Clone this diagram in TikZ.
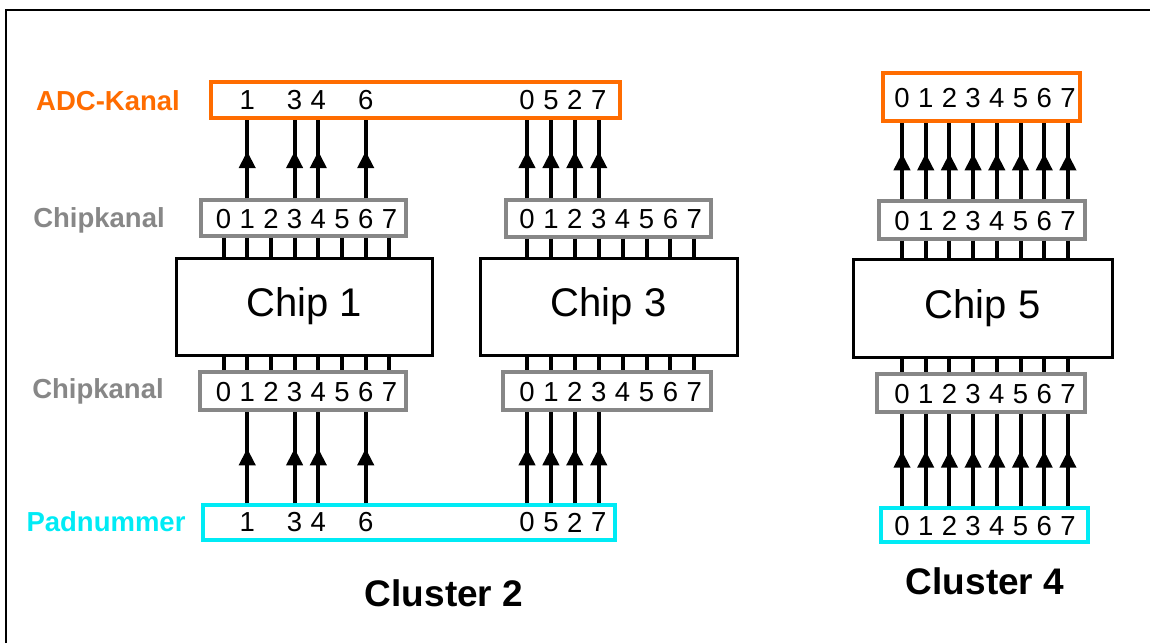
\documentclass[tikz,border=0pt]{standalone}
\usepackage{fontspec}
\setmainfont{Liberation Sans}
\usetikzlibrary{arrows.meta,decorations.markings}
\definecolor{adcorange}{RGB}{255,108,0}
\definecolor{chipgrey}{RGB}{135,135,135}
\definecolor{padcyan}{RGB}{0,235,245}
\begin{document}
\begin{tikzpicture}[x=1pt,y=-1pt,
  chipbox/.style={draw,line width=3pt,inner sep=0pt,font=\fontsize{40}{40}\selectfont},
  chanbox/.style={draw=chipgrey,line width=3.2pt,inner sep=0pt},
  adcbox/.style={draw=adcorange,line width=3.2pt,inner sep=0pt},
  padbox/.style={draw=padcyan,line width=3.2pt,inner sep=0pt},
  digit/.style={inner sep=0pt,font=\fontsize{27.5}{28}\selectfont},
  rowlabel/.style={inner sep=0pt,font=\fontsize{27.5}{28}\selectfont\bfseries},
  clusterlabel/.style={inner sep=0pt,font=\fontsize{37}{38}\selectfont\bfseries},
  pin/.style={line width=4pt},
  arr/.style={line width=4pt,postaction={decorate},
    decoration={markings,mark=at position 0.6 with {\arrow{Triangle[width=16pt,length=17pt]}}}}]
\useasboundingbox (0,0) rectangle (1151,643);

% frame
\draw[line width=2.5pt] (6,643) -- (6,10) -- (1150,10);

% row labels
\node[rowlabel,text=adcorange] (lbladc) at (108,101) {ADC-Kanal};
\node[rowlabel,text=chipgrey] (lblkt) at (99,220) {Chipkanal};
\node[rowlabel,text=chipgrey] (lblkb) at (98,391) {Chipkanal};
\node[rowlabel,text=padcyan] (lblpad) at (106,522) {Padnummer};

% chips
\node[chipbox,minimum width=256pt,minimum height=97pt] (c1) at (304,306.5) {Chip 1};
\node[chipbox,minimum width=257pt,minimum height=97pt] (c3) at (608.5,306.5) {Chip 3};
\node[chipbox,minimum width=259pt,minimum height=98pt] (c5) at (982.5,308) {Chip 5};

% chip channel boxes
\node[chanbox,minimum width=205pt,minimum height=36pt] (k1t) at (303.5,218) {};
\node[chanbox,minimum width=205pt,minimum height=37pt] (k3t) at (608.5,218.5) {};
\node[chanbox,minimum width=206pt,minimum height=38pt] (k5t) at (982,220) {};
\node[chanbox,minimum width=206pt,minimum height=38pt] (k1b) at (303,391) {};
\node[chanbox,minimum width=208pt,minimum height=38pt] (k3b) at (607,391) {};
\node[chanbox,minimum width=208pt,minimum height=38pt] (k5b) at (981,393) {};

% ADC and pad boxes
\node[adcbox,minimum width=409pt,minimum height=36pt] (adcA) at (415.5,100) {};
\node[adcbox,minimum width=197pt,minimum height=48pt] (adcB) at (981.5,97) {};
\node[padbox,minimum width=412pt,minimum height=35pt] (padA) at (409,522.5) {};
\node[padbox,minimum width=207pt,minimum height=34pt] (padB) at (984.5,525) {};

% channel digits and pins
\foreach \i in {0,...,7} {
  \node[digit] (k1t-\i) at (223.5+23.7*\i,219) {\i};
  \node[digit] (k3t-\i) at (527+23.9*\i,219) {\i};
  \node[digit] (k5t-\i) at (902+23.7*\i,221) {\i};
  \node[digit] (k1b-\i) at (223.5+23.7*\i,392) {\i};
  \node[digit] (k3b-\i) at (527+23.9*\i,392) {\i};
  \node[digit] (k5b-\i) at (902+23.7*\i,394) {\i};
  \node[digit] (adcB-\i) at (902+23.7*\i,98) {\i};
  \node[digit] (padB-\i) at (902+23.7*\i,526) {\i};
  \draw[pin] (k1t-\i |- k1t.south) -- (k1t-\i |- c1.north);
  \draw[pin] (k3t-\i |- k3t.south) -- (k3t-\i |- c3.north);
  \draw[pin] (k5t-\i |- k5t.south) -- (k5t-\i |- c5.north);
  \draw[pin] (k1b-\i |- c1.south) -- (k1b-\i |- k1b.north);
  \draw[pin] (k3b-\i |- c3.south) -- (k3b-\i |- k3b.north);
  \draw[pin] (k5b-\i |- c5.south) -- (k5b-\i |- k5b.north);
  \draw[arr] (k5t-\i |- k5t.north) -- (adcB-\i |- adcB.south);
  \draw[arr] (padB-\i |- padB.north) -- (k5b-\i |- k5b.south);
}

% cluster 2: ADC and pad numbers for the used channels
\foreach \ch/\n in {1/1,3/3,4/4,6/6} {
  \node[digit] (adcA-\n) at (k1t-\ch |- adcA) {\n};
  \node[digit] (padA-\n) at (k1b-\ch |- padA) {\n};
  \draw[arr] (k1t-\ch |- k1t.north) -- (adcA-\n |- adcA.south);
  \draw[arr] (padA-\n |- padA.north) -- (k1b-\ch |- k1b.south);
}
\foreach \ch/\n in {0/0,1/5,2/2,3/7} {
  \node[digit] (adcA-\n) at (k3t-\ch |- adcA) {\n};
  \node[digit] (padA-\n) at (k3b-\ch |- padA) {\n};
  \draw[arr] (k3t-\ch |- k3t.north) -- (adcA-\n |- adcA.south);
  \draw[arr] (padA-\n |- padA.north) -- (k3b-\ch |- k3b.south);
}

% cluster names
\node[clusterlabel] (cl2) at (444,593) {Cluster 2};
\node[clusterlabel] (cl4) at (985,581) {Cluster 4};
\end{tikzpicture}
\end{document}
